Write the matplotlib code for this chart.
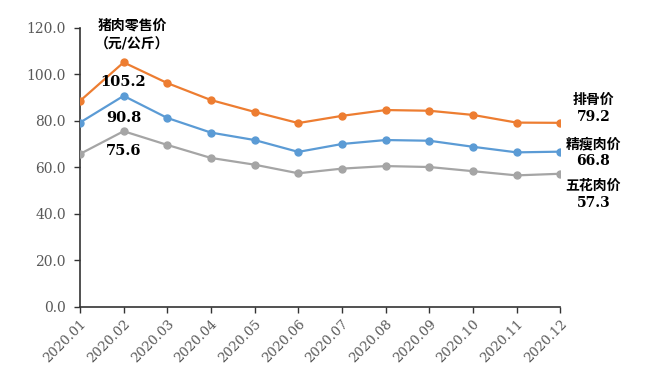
import matplotlib
matplotlib.use('Agg')
import matplotlib.pyplot as plt

plt.rcParams['font.family'] = ['DejaVu Serif', 'Noto Sans CJK SC', 'DejaVu Sans']

months = ['2020.01', '2020.02', '2020.03', '2020.04', '2020.05', '2020.06',
          '2020.07', '2020.08', '2020.09', '2020.10', '2020.11', '2020.12']
paigu = [88.6, 105.2, 96.3, 89.0, 83.9, 79.1, 82.2, 84.7, 84.4, 82.6, 79.3, 79.2]
jingshou = [79.3, 90.8, 81.3, 75.0, 71.8, 66.7, 70.1, 71.8, 71.5, 68.9, 66.5, 66.8]
wuhua = [65.8, 75.6, 69.7, 64.1, 61.2, 57.5, 59.5, 60.6, 60.2, 58.4, 56.6, 57.3]
names = ['排骨价', '精瘦肉价', '五花肉价']
colors = ['#ED7D31', '#5B9BD5', '#A5A5A5']
yticks = [0, 20, 40, 60, 80, 100, 120]

fig = plt.figure(figsize=(6.5, 3.73), dpi=100)
ax = fig.add_axes([0.123, 0.177, 0.739, 0.748])

x = list(range(len(months)))
series = [paigu, jingshou, wuhua]
for vals, c in zip(series, colors):
    ax.plot(x, vals, color=c, lw=1.6, marker='o', ms=5, zorder=3)

ax.set_xlim(0, len(months) - 1)
ax.set_ylim(0, 120)
ax.set_yticks(yticks)
ax.set_yticklabels(['%.1f' % v for v in yticks], color='#595959', fontsize=10)
ax.set_xticks(x)
ax.set_xticklabels(months, rotation=45, ha='right', rotation_mode='anchor',
                   color='#595959', fontsize=9.5)
ax.tick_params(axis='both', direction='out', length=4, color='#333333', width=1)
ax.tick_params(axis='y', pad=6)
for s in ['top', 'right']:
    ax.spines[s].set_visible(False)
for s in ['left', 'bottom']:
    ax.spines[s].set_color('#333333')
    ax.spines[s].set_linewidth(1.2)

ax.text(1.2, 117, '猪肉零售价\n（元/公斤）', ha='center', va='center',
        fontsize=10, fontweight='bold', linespacing=1.5, clip_on=False)

# peak labels under the February points
offs = [-20, -22, -20]
for vals, dy in zip(series, offs):
    ax.annotate('%.1f' % vals[1], (1, vals[1]), xytext=(0, dy),
                textcoords='offset pixels', ha='center', va='center',
                fontsize=10.5, fontweight='bold')

# end labels on the right
end_offs = [14, -1, -21]
for vals, n, dy in zip(series, names, end_offs):
    ax.annotate('%s\n%.1f' % (n, vals[-1]), (11, vals[-1]), xytext=(33, dy),
                textcoords='offset pixels', ha='center', va='center',
                fontsize=10, fontweight='bold', linespacing=1.3,
                annotation_clip=False)

fig.savefig('out.png', dpi=100)
